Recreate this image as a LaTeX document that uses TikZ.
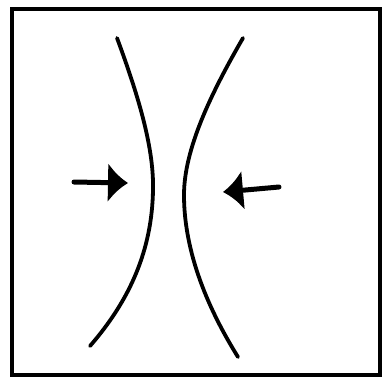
\documentclass[tikz,border=0pt]{standalone}
\usetikzlibrary{arrows.meta}
\begin{document}
\begin{tikzpicture}[x=1pt,y=-1pt,
  curve/.style={line width=3.8pt,line cap=round},
  push/.style={line width=5pt,line cap=round,-{Latex[length=20pt,width=40pt]}}]
\useasboundingbox (0,0) rectangle (387,383);
\draw[line width=4pt] (12,9) rectangle (380,375);
% left curve
\draw[curve] (117,38) .. controls (140,100) and (154,150) .. (153,190)
  .. controls (152,250) and (130,300) .. (90,346);
% right curve
\draw[curve] (243,38) .. controls (210,95) and (184,150) .. (184,195)
  .. controls (184,260) and (215,320) .. (238,357);
% arrows
\coordinate (la) at (74,182);
\coordinate (lb) at (128,183);
\coordinate (ra) at (279,187);
\coordinate (rb) at (223,192);
\draw[push] (la) -- (lb);
\draw[push] (ra) -- (rb);
\end{tikzpicture}
\end{document}
